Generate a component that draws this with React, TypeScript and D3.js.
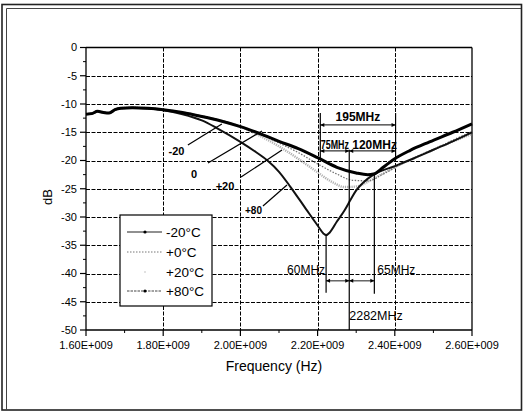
import React from "react";
import * as d3 from "d3";

// ---------- data (frequency in GHz, attenuation in dB) ----------
const common: [number, number][] = [
  [1.6, -11.8], [1.615, -11.7], [1.63, -11.3], [1.645, -11.5], [1.66, -11.6],
  [1.675, -11.0], [1.69, -10.75], [1.72, -10.65], [1.76, -10.75], [1.8, -11.0],
];

const serM20: [number, number][] = [
  ...common,
  [1.85, -11.5], [1.9, -12.2], [1.95, -13.0], [2.0, -14.0], [2.06, -15.5], [2.1, -16.6],
  [2.15, -17.9], [2.2, -19.5], [2.25, -21.2], [2.3, -22.2], [2.33, -22.5], [2.345, -22.4],
  [2.37, -21.2], [2.395, -19.9], [2.44, -18.2], [2.49, -16.7], [2.55, -15.0], [2.6, -13.5],
];

const serP0: [number, number][] = [
  ...common,
  [1.85, -11.5], [1.9, -12.1], [1.95, -12.9], [2.0, -13.9], [2.05, -15.3], [2.1, -16.9],
  [2.15, -18.6], [2.2, -20.6], [2.25, -22.4], [2.29, -23.5], [2.33, -23.6], [2.37, -22.4],
  [2.42, -20.5], [2.47, -18.9], [2.52, -17.4], [2.56, -16.1], [2.6, -14.9],
];

const serP20: [number, number][] = [
  ...common,
  [1.85, -11.5], [1.9, -12.2], [1.95, -13.0], [2.0, -14.0], [2.05, -15.6], [2.1, -17.5],
  [2.15, -19.7], [2.2, -22.1], [2.24, -23.9], [2.27, -24.7], [2.3, -24.6], [2.34, -23.4],
  [2.38, -21.9], [2.43, -20.2], [2.48, -18.7], [2.53, -17.2], [2.57, -16.1], [2.6, -15.3],
];

const serP80: [number, number][] = [
  [1.6, -11.8], [1.615, -11.7], [1.63, -11.3], [1.645, -11.5], [1.66, -11.6],
  [1.675, -11.0], [1.69, -10.75], [1.72, -10.65], [1.76, -10.8], [1.8, -11.1],
  [1.85, -11.8], [1.9, -12.9], [1.94, -14.3], [2.0, -16.7], [2.04, -18.5], [2.07, -20.0],
  [2.1, -22.0], [2.13, -24.7], [2.17, -28.6], [2.2, -31.5], [2.215, -32.9], [2.222, -33.2],
  [2.232, -32.7], [2.25, -30.8], [2.27, -28.8], [2.285, -27.0], [2.3, -25.3], [2.32, -23.8],
  [2.345, -22.5], [2.4, -21.0], [2.45, -19.6], [2.5, -18.1], [2.55, -16.6], [2.6, -15.0],
];

const legendLabels = ["-20°C", "+0°C", "+20°C", "+80°C"];

const xTicks = [1.6, 1.8, 2.0, 2.2, 2.4, 2.6];
const xTickLabels = ["1.60E+009", "1.80E+009", "2.00E+009", "2.20E+009", "2.40E+009", "2.60E+009"];
const xMinorTicks = [1.7, 1.9, 2.1, 2.3, 2.5];
const yTicks = [0, -5, -10, -15, -20, -25, -30, -35, -40, -45, -50];
const yMinorTicks = [-2.5, -7.5, -12.5, -17.5, -22.5, -27.5, -32.5, -37.5, -42.5, -47.5];

// annotation frequencies (GHz)
const fCenter = 2.282;
const fLow3 = 2.207;
const fHigh3 = 2.402;
const fLowMin = 2.222;
const fHighMin = 2.347;

// curve labels: text position and leader line, in data units
const curveLabels = [
  { text: "-20", f: 1.8345, db: -19.0, size: 11, l: [1.864, -17.26, 1.952, -13.54] },
  { text: "0", f: 1.8798, db: -23.1, size: 11, l: [1.916, -20.44, 2.056, -14.78] },
  { text: "+20", f: 1.9601, db: -25.2, size: 11, l: [2.0016, -22.92, 2.1078, -18.14] },
  { text: "+80", f: 2.0339, db: -29.5, size: 10, l: [2.0585, -28.05, 2.1207, -24.34] },
];

export default function App() {
  const W = 523, H = 412;
  const x = d3.scaleLinear().domain([1.6, 2.6]).range([86, 472]);
  const y = d3.scaleLinear().domain([-50, 0]).range([330, 47.5]);
  const line = d3
    .line<[number, number]>()
    .x((d) => x(d[0]))
    .y((d) => y(d[1]))
    .curve(d3.curveMonotoneX);

  const font = "'Liberation Sans', Arial, sans-serif";
  const x0 = x(1.6), x1 = x(2.6), yTop = y(0), yBot = y(-50);

  const arrowH = (xa: number, xb: number, yy: number, key: string, w = 1) => {
    const a = 4, b = 2;
    return (
      <g key={key}>
        <line x1={xa} x2={xb} y1={yy} y2={yy} stroke="#000" strokeWidth={w} />
        <path d={`M${xa},${yy} l${a},${-b} l0,${2 * b} z`} fill="#000" />
        <path d={`M${xb},${yy} l${-a},${-b} l0,${2 * b} z`} fill="#000" />
      </g>
    );
  };

  const lgX = 120, lgY = 215, lgW = 92, lgH = 91;
  const lgRows = [232, 252, 272, 291];

  return (
    <svg width={W} height={H} style={{ position: "absolute", left: 0, top: 0, background: "#fff" }} fontFamily={font}>
      <rect x={0} y={0} width={W} height={H} fill="#fff" />
      {/* frame */}
      <rect x={2} y={4.5} width={519.5} height={405.5} fill="none" stroke="#222" strokeWidth={1.6} />
      <path d="M6.5,410 L6.5,8.5 L521,8.5" fill="none" stroke="#444" strokeWidth={1} />

      {/* grid */}
      {yTicks.filter((t) => t !== 0 && t !== -50).map((t) => (
        <line key={"gy" + t} x1={x0} x2={x1} y1={Math.round(y(t)) + 0.5} y2={Math.round(y(t)) + 0.5} stroke="#000" strokeWidth={1} strokeDasharray="4,1.5" />
      ))}
      {xTicks.filter((t) => t !== 1.6 && t !== 2.6).map((t) => (
        <line key={"gx" + t} x1={Math.round(x(t)) + 0.5} x2={Math.round(x(t)) + 0.5} y1={yTop} y2={yBot} stroke="#000" strokeWidth={1} strokeDasharray="4,1.5" />
      ))}
      {/* plot border */}
      <line x1={x0} x2={x1} y1={yTop} y2={yTop} stroke="#000" strokeWidth={1.3} />
      <line x1={x1} x2={x1} y1={yTop} y2={yBot} stroke="#000" strokeWidth={1.3} />
      <line x1={x0} x2={x0} y1={yTop} y2={yBot} stroke="#000" strokeWidth={1.3} />
      <line x1={x0} x2={x1} y1={yBot} y2={yBot} stroke="#000" strokeWidth={1.3} />

      {/* ticks */}
      {yTicks.map((t) => (
        <g key={"ty" + t}>
          <line x1={x0 - 6} x2={x0} y1={y(t)} y2={y(t)} stroke="#000" strokeWidth={1.2} />
          <text x={77} y={y(t)} dy="0.36em" textAnchor="end" fontSize={11} fill="#000">{t}</text>
        </g>
      ))}
      {yMinorTicks.map((t) => (
        <line key={"my" + t} x1={x0 - 3} x2={x0} y1={y(t)} y2={y(t)} stroke="#000" strokeWidth={1} />
      ))}
      {xTicks.map((t, i) => (
        <g key={"tx" + t}>
          <line x1={x(t)} x2={x(t)} y1={yBot} y2={yBot + 6} stroke="#000" strokeWidth={1.2} />
          <text x={x(t)} y={yBot + 19} textAnchor="middle" fontSize={11} fill="#000">{xTickLabels[i]}</text>
        </g>
      ))}
      {xMinorTicks.map((t) => (
        <line key={"mx" + t} x1={x(t)} x2={x(t)} y1={yBot} y2={yBot + 3} stroke="#000" strokeWidth={1} />
      ))}

      {/* axis titles */}
      <text x={274} y={371} textAnchor="middle" fontSize={14} fill="#000">Frequency (Hz)</text>
      <text transform="translate(52,197) rotate(-90)" textAnchor="middle" fontSize={13} fill="#000">dB</text>

      {/* curves */}
      <path d={line(serP20) || ""} fill="none" stroke="#b0b0b0" strokeWidth={2.4} strokeDasharray="1.2,1" />
      <path d={line(serP0) || ""} fill="none" stroke="#707070" strokeWidth={1.3} strokeDasharray="1.5,1.5" />
      <path d={line(serP80) || ""} fill="none" stroke="#111" strokeWidth={2} />
      <path d={line(serM20) || ""} fill="none" stroke="#000" strokeWidth={3} />

      {/* curve labels */}
      {curveLabels.map((c) => (
        <g key={"cl" + c.text}>
          <line x1={x(c.l[0])} y1={y(c.l[1])} x2={x(c.l[2])} y2={y(c.l[3])} stroke="#000" strokeWidth={1.2} />
          <text x={x(c.f)} y={y(c.db)} textAnchor="middle" fontSize={c.size} fontWeight="bold" fill="#000">{c.text}</text>
        </g>
      ))}

      {/* annotations: top */}
      <line x1={x(fLow3)} x2={x(fLow3)} y1={y(-11.6)} y2={y(-19.8)} stroke="#000" strokeWidth={1.2} />
      <line x1={x(fHigh3)} x2={x(fHigh3)} y1={y(-11.6)} y2={y(-19.9)} stroke="#000" strokeWidth={1.2} />
      {arrowH(x(fLow3), x(fHigh3), y(-13.7), "a195")}
      <text x={(x(fLow3) + x(fHigh3)) / 2} y={y(-13.0)} textAnchor="middle" fontSize={12} fontWeight="bold" fill="#000">195MHz</text>
      {arrowH(x(fLow3), x(fCenter), y(-18.3), "a75")}
      {arrowH(x(fCenter), x(fHigh3), y(-18.3), "a120")}
      <text transform={`translate(${x(fLow3) + 0.5},${y(-17.9)}) scale(0.74,1)`} fontSize={12} fontWeight="bold" fill="#000">75MHz</text>
      <text x={x(fCenter) + 3} y={y(-17.9)} fontSize={12} fontWeight="bold" fill="#000">120MHz</text>
      <line x1={x(fCenter)} x2={x(fCenter)} y1={y(-18.1)} y2={yBot} stroke="#000" strokeWidth={1.2} />

      {/* annotations: bottom */}
      <line x1={x(fLowMin)} x2={x(fLowMin)} y1={y(-33.2)} y2={y(-43.4)} stroke="#000" strokeWidth={1.2} />
      <line x1={x(fHighMin)} x2={x(fHighMin)} y1={y(-22.5)} y2={y(-43.6)} stroke="#000" strokeWidth={1.2} />
      {arrowH(x(fLowMin), x(fCenter), y(-41.3), "a60", 0.9)}
      {arrowH(x(fCenter), x(fHighMin), y(-41.3), "a65", 0.9)}
      <text x={x(fLowMin) - 1} y={y(-40.1)} textAnchor="end" fontSize={12} fill="#000">60MHz</text>
      <text x={x(fHighMin) + 3} y={y(-40.1)} fontSize={12} fill="#000">65MHz</text>
      <text x={x(fCenter)} y={y(-48.2)} fontSize={12.5} fill="#000">2282MHz</text>

      {/* legend */}
      <rect x={lgX} y={lgY} width={lgW} height={lgH} fill="#fff" stroke="#000" strokeWidth={1.2} />
      <line x1={127} x2={162} y1={lgRows[0]} y2={lgRows[0]} stroke="#222" strokeWidth={1.2} />
      <circle cx={145} cy={lgRows[0]} r={1.6} fill="#000" />
      <line x1={127} x2={162} y1={lgRows[1]} y2={lgRows[1]} stroke="#777" strokeWidth={1} strokeDasharray="1.5,1.5" />
      <circle cx={145} cy={lgRows[2]} r={0.8} fill="#bbb" />
      <line x1={127} x2={162} y1={lgRows[3]} y2={lgRows[3]} stroke="#444" strokeWidth={1} strokeDasharray="2.5,1" />
      <circle cx={145} cy={lgRows[3]} r={1.6} fill="#000" />
      {legendLabels.map((l, i) => (
        <text key={l} x={166} y={lgRows[i]} dy="0.36em" fontSize={13.5} fill="#000">{l}</text>
      ))}
    </svg>
  );
}
